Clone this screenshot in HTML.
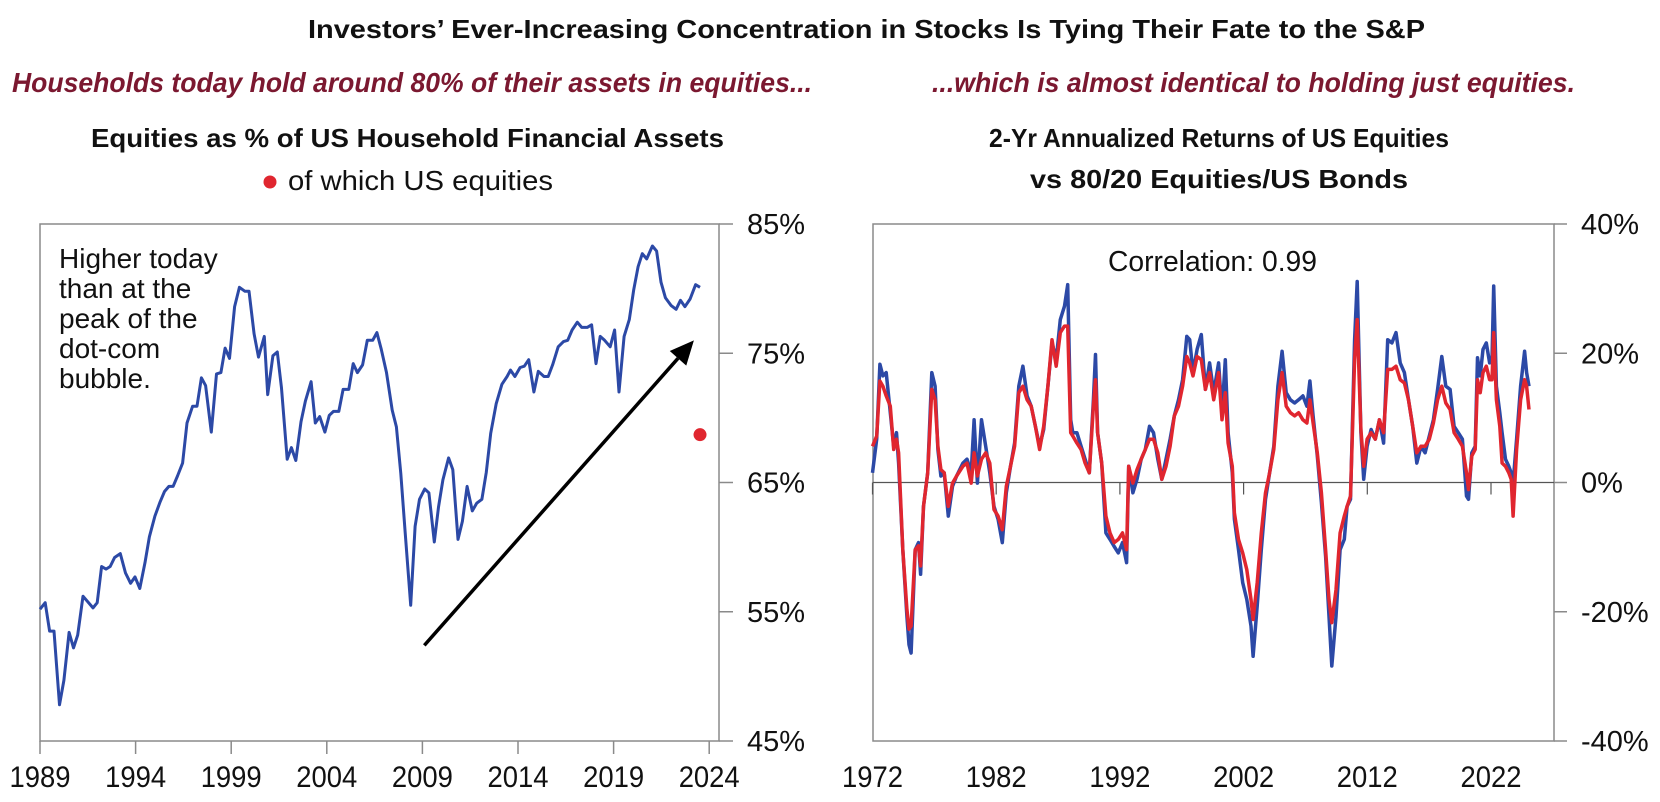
<!DOCTYPE html>
<html><head><meta charset="utf-8"><style>
html,body{margin:0;padding:0;background:#fff;}
svg{display:block;font-family:"Liberation Sans Narrow","Liberation Sans",sans-serif;}
</style></head><body>
<svg id="c" width="1660" height="802" viewBox="0 0 1660 802" xmlns="http://www.w3.org/2000/svg">
<text x="308" y="38" font-size="26" font-weight="bold" textLength="1117" lengthAdjust="spacingAndGlyphs" fill="#111">Investors’ Ever-Increasing Concentration in Stocks Is Tying Their Fate to the S&amp;P</text>
<text x="12" y="92" font-size="28" font-weight="bold" font-style="italic" textLength="800" lengthAdjust="spacingAndGlyphs" fill="#7b1830">Households today hold around 80% of their assets in equities...</text>
<text x="932" y="92" font-size="28" font-weight="bold" font-style="italic" textLength="643" lengthAdjust="spacingAndGlyphs" fill="#7b1830">...which is almost identical to holding just equities.</text>
<text x="91" y="147" font-size="26" font-weight="bold" textLength="633" lengthAdjust="spacingAndGlyphs" fill="#111">Equities as % of US Household Financial Assets</text>
<circle cx="270" cy="182" r="6.5" fill="#e0262f"/>
<text x="288" y="190" font-size="28" textLength="265" lengthAdjust="spacingAndGlyphs" fill="#111">of which US equities</text>
<text x="989" y="147" font-size="26" font-weight="bold" textLength="460" lengthAdjust="spacingAndGlyphs" fill="#111">2-Yr Annualized Returns of US Equities</text>
<text x="1030" y="188" font-size="26" font-weight="bold" textLength="378" lengthAdjust="spacingAndGlyphs" fill="#111">vs 80/20 Equities/US Bonds</text>
<g id="left"></g>
<g id="right"></g>
</svg>
<script>
// ---- Left chart data ----
const leftYears=[1989.0,1989.27,1989.5,1989.73,1990.02,1990.25,1990.52,1990.75,1990.97,1991.25,1991.77,1991.99,1992.22,1992.45,1992.67,1992.9,1993.2,1993.47,1993.74,1993.97,1994.22,1994.49,1994.72,1995.01,1995.28,1995.51,1995.74,1995.96,1996.19,1996.46,1996.69,1996.98,1997.21,1997.44,1997.66,1997.96,1998.23,1998.46,1998.68,1998.91,1999.18,1999.43,1999.71,1999.93,2000.2,2000.43,2000.73,2000.91,2001.18,2001.41,2001.63,2001.93,2002.15,2002.38,2002.65,2002.88,2003.18,2003.4,2003.63,2003.9,2004.13,2004.35,2004.63,2004.85,2005.15,2005.38,2005.6,2005.87,2006.12,2006.4,2006.62,2006.85,2007.12,2007.42,2007.64,2007.87,2008.1,2008.39,2008.62,2008.85,2009.12,2009.34,2009.62,2009.84,2010.07,2010.37,2010.59,2010.86,2011.09,2011.34,2011.61,2011.84,2012.11,2012.34,2012.57,2012.86,2013.16,2013.43,2013.61,2013.84,2014.11,2014.33,2014.56,2014.83,2015.06,2015.36,2015.58,2015.81,2016.1,2016.38,2016.6,2016.83,2017.1,2017.33,2017.62,2017.85,2018.08,2018.3,2018.53,2018.82,2019.05,2019.28,2019.55,2019.82,2020.05,2020.28,2020.5,2020.73,2021.03,2021.25,2021.48,2021.71,2022.0,2022.27,2022.5,2022.73,2023.0,2023.29,2023.52];
const leftValues=[55.2,55.7,53.5,53.5,47.8,49.7,53.4,52.2,53.2,56.2,55.3,55.7,58.5,58.3,58.5,59.2,59.5,58.0,57.2,57.7,56.8,58.8,60.8,62.4,63.5,64.3,64.7,64.7,65.5,66.5,69.6,70.9,70.9,73.1,72.5,68.9,73.4,73.5,75.4,74.6,78.6,80.1,79.8,79.8,76.5,74.7,76.3,71.8,74.8,75.1,72.3,66.8,67.7,66.7,69.7,71.3,72.8,69.6,70.1,68.9,70.2,70.5,70.5,72.2,72.2,74.2,73.5,74.1,76.0,76.0,76.6,75.3,73.5,70.6,69.3,65.7,61.1,55.5,61.6,63.7,64.5,64.2,60.4,63.1,65.2,66.9,66.0,60.6,62.0,64.7,62.8,63.4,63.7,65.8,68.8,71.1,72.6,73.2,73.7,73.2,73.9,74.0,74.5,72.0,73.6,73.2,73.2,74.1,75.5,75.9,76.0,76.8,77.4,77.0,77.0,77.2,74.2,76.3,76.0,75.5,76.8,72.0,76.3,77.6,79.9,81.7,82.7,82.3,83.3,82.9,80.5,79.3,78.7,78.4,79.1,78.6,79.2,80.3,80.1];
const usEquityPoint=[2023.52,68.7];
const arrowFrom=[2009.1,52.4];
const arrowTo=[2023.2,76.0];
const leftYTicks=[85,75,65,55,45];
const leftXTicks=[1989,1994,1999,2004,2009,2014,2019,2024];

// ---- Right chart data ----
const rightYears=[1972.0,1972.34,1972.6,1972.84,1973.11,1973.44,1973.71,1973.94,1974.11,1974.45,1974.78,1974.95,1975.12,1975.45,1975.72,1975.89,1976.12,1976.46,1976.79,1977.06,1977.29,1977.53,1977.8,1978.13,1978.47,1978.8,1979.31,1979.64,1979.98,1980.21,1980.48,1980.81,1981.15,1981.48,1981.82,1982.15,1982.49,1982.82,1983.16,1983.49,1983.83,1984.16,1984.5,1984.83,1985.17,1985.51,1985.84,1986.18,1986.51,1986.85,1987.18,1987.52,1987.78,1988.02,1988.19,1988.52,1988.86,1989.19,1989.53,1989.86,1990.03,1990.2,1990.53,1990.87,1991.2,1991.54,1991.87,1992.21,1992.54,1992.71,1993.05,1993.38,1993.72,1994.05,1994.39,1994.72,1995.06,1995.39,1995.73,1996.06,1996.4,1996.74,1997.07,1997.41,1997.64,1997.91,1998.24,1998.58,1998.91,1999.25,1999.58,1999.98,2000.25,2000.52,2000.75,2001.09,2001.26,2001.59,2001.93,2002.26,2002.6,2002.77,2003.1,2003.43,2003.77,2004.1,2004.44,2004.77,2005.11,2005.44,2005.78,2006.12,2006.45,2006.79,2007.12,2007.36,2007.62,2007.96,2008.29,2008.63,2008.9,2009.13,2009.47,2009.8,2010.14,2010.37,2010.64,2010.97,2011.18,2011.48,2011.71,2011.98,2012.31,2012.65,2012.98,2013.32,2013.65,2013.99,2014.32,2014.66,2015.0,2015.33,2015.67,2016.0,2016.34,2016.67,2017.01,2017.34,2017.68,2018.02,2018.35,2018.69,2019.02,2019.36,2019.69,2020.02,2020.18,2020.45,2020.72,2020.91,2021.13,2021.35,2021.62,2021.89,2022.08,2022.22,2022.44,2022.71,2022.9,2023.17,2023.44,2023.63,2023.79,2024.07,2024.39,2024.72,2024.88,2025.07];
const equitiesReturns=[1.5,6.7,18.3,16.5,17.0,10.8,5.6,7.7,3.0,-10.4,-20.7,-25.1,-26.4,-10.4,-9.3,-14.2,-3.7,1.5,17.0,14.9,5.1,1.0,1.5,-5.2,-0.6,1.0,3.0,3.6,1.5,9.7,-0.1,9.7,5.6,1.5,-3.7,-5.7,-9.3,-1.6,2.5,6.1,14.9,18.0,13.4,11.8,8.7,5.6,8.2,14.9,21.6,19.0,25.2,27.3,30.6,9.7,7.7,7.7,5.6,3.6,1.5,12.8,19.8,7.7,3.0,-7.8,-8.8,-9.9,-10.9,-9.3,-12.4,2.5,-1.6,0.5,3.6,5.1,8.7,7.7,3.6,0.5,3.6,6.7,10.3,12.8,15.9,22.6,22.1,17.0,20.6,22.9,14.4,18.5,13.9,18.5,10.8,19.0,7.7,1.5,-5.7,-10.4,-15.5,-18.1,-22.2,-26.9,-19.1,-10.4,-2.6,1.5,5.6,14.9,20.3,13.9,12.8,12.3,12.8,13.4,11.8,15.7,10.3,4.1,-3.1,-11.4,-20.7,-28.4,-20.7,-10.4,-8.8,-3.7,-2.6,22.1,31.1,7.7,0.5,5.6,8.2,6.7,9.7,6.1,22.1,21.6,23.2,18.5,17.0,12.8,8.7,3.0,5.6,4.6,7.2,9.7,14.4,19.5,14.9,14.4,8.7,7.7,6.7,-2.1,-2.6,4.6,5.6,19.3,16.5,20.6,21.6,18.5,19.0,30.4,14.9,10.8,7.7,3.6,2.5,1.5,-0.1,6.7,14.9,20.3,17.0,14.9];
const mixReturns=[5.6,7.2,15.7,14.9,13.4,11.8,5.1,6.7,4.6,-10.4,-19.6,-22.7,-22.2,-10.4,-9.8,-12.9,-3.7,1.5,14.4,12.8,5.6,2.0,1.5,-3.7,-0.1,1.0,2.5,3.0,-0.1,4.6,1.0,3.6,4.6,3.0,-4.2,-5.2,-7.3,-0.6,2.5,5.6,13.9,14.9,12.8,11.8,8.7,5.1,8.7,14.9,22.1,18.0,23.2,24.2,24.2,7.7,7.2,6.1,5.1,3.0,1.5,11.8,15.9,7.7,3.0,-5.2,-7.8,-9.3,-8.8,-7.8,-10.4,2.5,-0.1,2.0,3.6,5.1,6.7,6.7,4.6,0.5,2.5,5.6,10.3,11.8,14.9,19.5,18.5,16.5,19.5,19.0,14.4,17.0,12.8,17.0,9.7,13.9,6.1,2.5,-4.7,-8.8,-10.9,-13.5,-18.1,-21.2,-15.5,-7.8,-1.6,1.5,5.1,12.8,17.0,11.8,10.8,10.3,10.8,9.7,9.2,12.8,9.2,4.6,-1.6,-10.4,-18.1,-21.7,-16.6,-7.8,-5.2,-3.7,-2.1,19.0,25.2,8.2,2.5,6.7,7.7,6.7,9.7,7.7,17.5,17.5,18.0,15.9,15.4,12.8,8.7,4.6,5.6,5.6,6.7,9.2,12.8,14.9,12.3,11.3,7.7,6.7,5.6,1.5,-1.1,4.1,5.1,15.9,13.9,17.0,18.0,15.9,15.9,23.2,12.8,8.7,3.0,2.5,1.5,0.5,-5.2,5.1,12.8,15.9,14.9,11.3];
const rightYTickValues=[40,20,0,-20,-40];
const rightYTickLabels=["40%","20%","0%","-20%","-40%"];
const rightXTicks=[1972,1982,1992,2002,2012,2022];

const NS="http://www.w3.org/2000/svg";
function mk(parent,tag,attrs){const e=document.createElementNS(NS,tag);for(const k in attrs)e.setAttribute(k,attrs[k]);parent.appendChild(e);return e;}

// ---- Left chart axes ----
const L={x0:40,x1:719,y0:224,y1:741};
const lx=y=>L.x0+(y-1989)*19.12;
const ly=v=>L.y0+(85-v)*12.925;
const gl=document.getElementById('left');
let e;
e=mk(gl,'rect',{x:L.x0,y:L.y0,width:L.x1-L.x0,height:L.y1-L.y0,fill:'none',stroke:'#8a8a8a','stroke-width':1.5});


leftYTicks.forEach(v=>{
  const t=mk(gl,'line',{x1:L.x1,x2:L.x1+14,y1:ly(v),y2:ly(v),stroke:'#8a8a8a','stroke-width':1.5});
  
  
  const tx=mk(gl,'text',{x:747,y:ly(v)+10,'font-size':29,fill:'#111','font-family':'Liberation Sans, sans-serif'});
  tx.textContent=v+'%';
  
  
});
leftXTicks.forEach(y=>{
  const t=mk(gl,'line',{x1:lx(y),x2:lx(y),y1:L.y1,y2:L.y1+13,stroke:'#8a8a8a','stroke-width':1.5});
  
  
  const tx=mk(gl,'text',{x:lx(y),y:787,'font-size':30,fill:'#111','text-anchor':'middle',textLength:61,lengthAdjust:'spacingAndGlyphs'});
  tx.textContent=String(y);
  
  
});
// annotation
const ann=["Higher today","than at the","peak of the","dot-com","bubble."];
ann.forEach((s,i)=>{
  const tx=mk(gl,'text',{x:59,y:268+i*30,'font-size':28,fill:'#111'});
  tx.textContent=s;
  
  
});
// line
let d=leftYears.map((y,i)=>(i?'L':'M')+lx(y).toFixed(1)+','+ly(leftValues[i]).toFixed(1)).join('');
e=mk(gl,'path',{d:d,fill:'none',stroke:'#2c49a6','stroke-width':3,'stroke-linejoin':'round'});


// arrow
const ax0=lx(arrowFrom[0]),ay0=ly(arrowFrom[1]),ax1=lx(arrowTo[0]),ay1=ly(arrowTo[1]);
const ang=Math.atan2(ay1-ay0,ax1-ax0),hl=24,hw=11;
const bx=ax1-hl*Math.cos(ang),by=ay1-hl*Math.sin(ang);
e=mk(gl,'line',{x1:ax0,y1:ay0,x2:bx,y2:by,stroke:'#000','stroke-width':3.5});


e=mk(gl,'polygon',{points:`${ax1},${ay1} ${bx-hw*Math.sin(ang)},${by+hw*Math.cos(ang)} ${bx+hw*Math.sin(ang)},${by-hw*Math.cos(ang)}`,fill:'#000'});


e=mk(gl,'circle',{cx:lx(usEquityPoint[0]),cy:ly(usEquityPoint[1]),r:6.5,fill:'#e0262f'});



// ---- Right chart ----
const R={x0:873,x1:1554,y0:224,y1:741};
const rx=y=>872.5+(y-1972)*12.37;
const ry=v=>482.5-v*6.4625;
const gr=document.getElementById('right');
e=mk(gr,'rect',{x:R.x0,y:R.y0,width:R.x1-R.x0,height:R.y1-R.y0,fill:'none',stroke:'#8a8a8a','stroke-width':1.5});


e=mk(gr,'line',{x1:R.x0,x2:R.x1,y1:ry(0),y2:ry(0),stroke:'#555','stroke-width':1.2});


rightYTickValues.forEach((v,i)=>{
  const t=mk(gr,'line',{x1:R.x1,x2:R.x1+13,y1:ry(v),y2:ry(v),stroke:'#8a8a8a','stroke-width':1.5});
  
  
  const tx=mk(gr,'text',{x:1581,y:ry(v)+10,'font-size':29,fill:'#111','font-family':'Liberation Sans, sans-serif'});
  tx.textContent=rightYTickLabels[i];
  
  
});
rightXTicks.forEach(y=>{
  const t=mk(gr,'line',{x1:rx(y),x2:rx(y),y1:ry(0),y2:ry(0)+12,stroke:'#555','stroke-width':1.2});
  
  
  const tx=mk(gr,'text',{x:rx(y),y:787,'font-size':30,fill:'#111','text-anchor':'middle',textLength:61,lengthAdjust:'spacingAndGlyphs'});
  tx.textContent=String(y);
  
  
});
d=rightYears.map((y,i)=>(i?'L':'M')+rx(y).toFixed(1)+','+ry(equitiesReturns[i]).toFixed(1)).join('');
e=mk(gr,'path',{d:d,fill:'none',stroke:'#2c49a6','stroke-width':3.5,'stroke-linejoin':'round'});


d=rightYears.map((y,i)=>(i?'L':'M')+rx(y).toFixed(1)+','+ry(mixReturns[i]).toFixed(1)).join('');
e=mk(gr,'path',{d:d,fill:'none',stroke:'#e0262f','stroke-width':3.5,'stroke-linejoin':'round'});


e=mk(gr,'text',{x:1108,y:271,'font-size':29,fill:'#111',textLength:209,lengthAdjust:'spacingAndGlyphs'});
e.textContent='Correlation: 0.99';


</script>
</body></html>
